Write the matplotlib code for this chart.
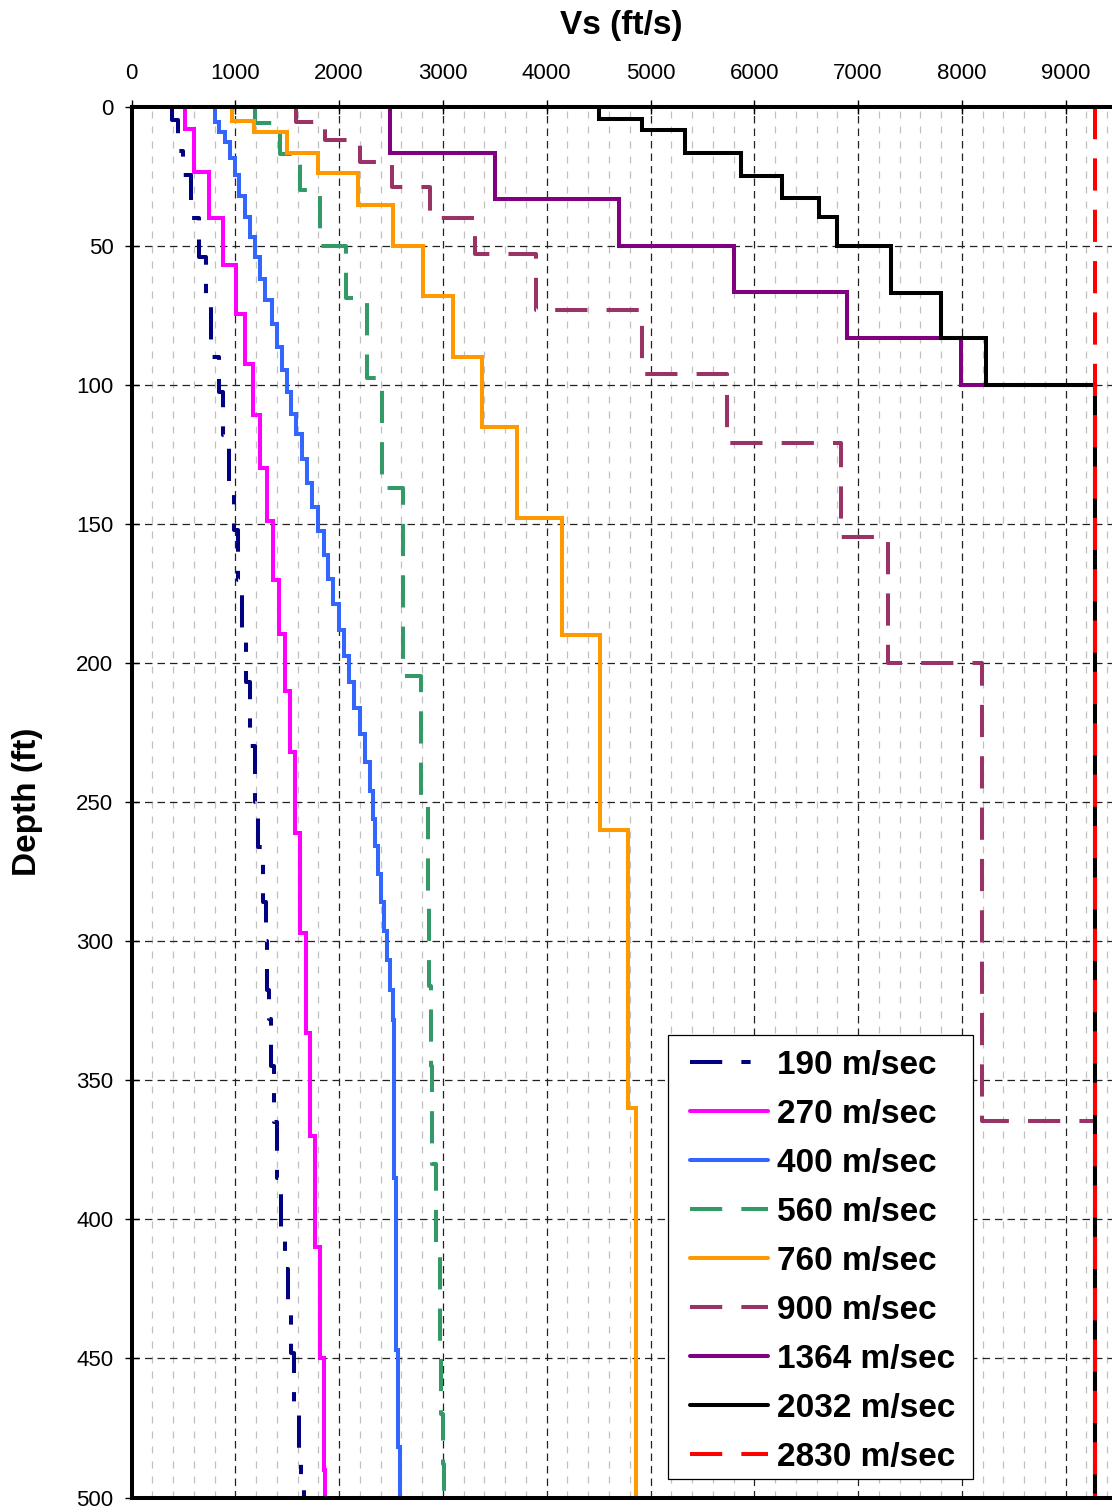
import numpy as np
import matplotlib
matplotlib.use("Agg")
import matplotlib.pyplot as plt
from matplotlib.patches import Rectangle

plt.rcParams['font.family'] = ['Liberation Sans', 'DejaVu Sans']

# layer boundaries (ft) and shear-wave velocity of each layer (ft/s)
# an extra trailing velocity is the half-space below 500 ft
depth_190 = [0, 4.8, 16, 24.6, 40, 54, 72, 90, 102.5, 118, 136, 152, 170, 190, 207, 230, 250,
             266, 286, 300, 317.6, 328, 345, 365, 385, 405, 418, 430, 448, 470, 488, 497, 500]
vs_190 = [390, 450, 500, 570, 650, 720, 770, 845, 885, 943, 991, 1029, 1068, 1106, 1142, 1193,
          1222, 1265, 1299, 1309, 1328, 1347, 1375, 1405, 1440, 1475, 1505, 1540, 1568, 1610,
          1637, 1661, 1695]

depth_270 = [0, 8, 23.4, 40, 57, 74.5, 92.5, 111, 130, 149, 170, 189.5, 210, 232, 261, 297,
             333, 370, 410, 450, 490, 500]
vs_270 = [520, 600, 750, 880, 1005, 1095, 1175, 1240, 1310, 1365, 1420, 1480, 1525, 1575,
          1620, 1680, 1720, 1770, 1815, 1850, 1860]

depth_400 = [0, 5.4, 9, 12.6, 18.6, 24.6, 32, 39.5, 46.7, 54, 61.8, 69.6, 78, 86.4, 94.5,
             102.5, 110.3, 117.8, 126.8, 135.2, 144, 152.5, 161, 169.8, 178.8, 188.2, 197.5,
             207, 216.3, 225.6, 235.7, 246, 255.9, 265.8, 275.9, 286, 296.3, 306.8, 317.6,
             328.4, 385, 447, 482, 500]
vs_400 = [800, 845, 900, 945, 995, 1040, 1090, 1140, 1190, 1240, 1290, 1350, 1400, 1450, 1495,
          1540, 1585, 1640, 1690, 1740, 1800, 1850, 1895, 1945, 2000, 2050, 2100, 2145, 2198,
          2250, 2300, 2325, 2350, 2378, 2405, 2430, 2465, 2490, 2515, 2530, 2548, 2566, 2583]

depth_560 = [0, 6, 17, 30, 50, 68.6, 97.4, 137.2, 204.7, 248, 285, 316, 345, 380, 410, 447,
             470, 488, 500]
vs_560 = [1185, 1430, 1620, 1815, 2065, 2265, 2415, 2620, 2790, 2860, 2870, 2882, 2898, 2930,
          2968, 2985, 3003, 3014]

depth_760 = [0, 5, 9, 16.5, 24, 35.5, 50, 68, 90, 115, 148, 190, 260, 360, 500]
vs_760 = [970, 1180, 1500, 1800, 2180, 2520, 2810, 3100, 3380, 3710, 4150, 4510, 4780, 4860,
          5030]

depth_900 = [0, 5.4, 12, 20, 28.8, 40, 53, 73, 96, 121, 154.6, 200, 364.5, 500]
vs_900 = [1580, 1865, 2200, 2505, 2875, 3310, 3895, 4920, 5740, 6835, 7290, 8195, 9285]

depth_1364 = [0, 16.7, 33.3, 50, 66.7, 83.3, 100, 500]
vs_1364 = [2490, 3500, 4700, 5800, 6890, 7990, 9285]

depth_2032 = [0, 4.5, 8.4, 16.5, 24.9, 33, 39.8, 50, 66.8, 83.3, 100, 500]
vs_2032 = [4500, 4915, 5330, 5875, 6265, 6620, 6795, 7315, 7800, 8230, 9285]

depth_2830 = [0, 500]
vs_2830 = [9285]

labels = ['190 m/sec', '270 m/sec', '400 m/sec', '560 m/sec', '760 m/sec',
          '900 m/sec', '1364 m/sec', '2032 m/sec', '2830 m/sec']
colors = ['#000080', '#FF00FF', '#3366FF', '#339966', '#FF9900',
          '#993366', '#800080', '#000000', '#FF0000']
dash = (0, (8, 4.75))
styles = [(0, (8, 4.75, 2.3, 4.75)), '-', '-', dash, '-', dash, '-', '-', dash]

profiles = [(depth_190, vs_190), (depth_270, vs_270), (depth_400, vs_400),
            (depth_560, vs_560), (depth_760, vs_760), (depth_900, vs_900),
            (depth_1364, vs_1364), (depth_2032, vs_2032), (depth_2830, vs_2830)]


def staircase(depths, vs):
    d = np.asarray(depths, float)
    v = np.asarray(vs, float)
    n = len(d) - 1
    x = np.repeat(v[:n], 2)
    y = np.column_stack([d[:-1], d[1:]]).ravel()
    if len(v) > n:
        x = np.append(x, v[n])
        y = np.append(y, d[-1])
    return x, y


W, H = 1112, 1510
fig = plt.figure(figsize=(W / 100, H / 100), dpi=100)
left, top, bottom = 131.5, 106.7, 1497.5
ax = fig.add_axes([left / W, 1 - bottom / H, (W - left) / W, (bottom - top) / H])

for (d, v), lab, c, ls in zip(profiles, labels, colors, styles):
    x, y = staircase(d, v)
    ax.plot(x, y, color=c, lw=2.9, linestyle=ls, label=lab,
            solid_joinstyle='miter', solid_capstyle='round', dash_capstyle='butt')

ax.set_xlim(0, 9446)
ax.set_ylim(500, 0)
ax.set_xticks(np.arange(0, 9001, 1000))
ax.set_xticks(np.arange(0, 9446, 200), minor=True)
ax.set_yticks(np.arange(0, 501, 50))

ax.xaxis.tick_top()
ax.xaxis.set_label_position('top')
ax.tick_params(axis='x', which='major', direction='inout', length=10, width=1,
               labelsize=16, pad=11)
ax.tick_params(axis='x', which='minor', length=0)
ax.tick_params(axis='y', which='major', direction='inout', length=10, width=1,
               labelsize=16, pad=8)

ax.set_axisbelow(True)
ax.grid(which='major', axis='x', color='#222222', lw=0.9, linestyle=(0, (6, 4)))
ax.grid(which='minor', axis='x', color='#c0c0c0', lw=0.9, linestyle=(0, (5.6, 6.4)))
ax.grid(which='major', axis='y', color='#222222', lw=0.9, linestyle=(0, (6, 4)))

for side in ['top', 'left', 'bottom']:
    ax.spines[side].set_linewidth(2.9)
    ax.spines[side].set_color('black')
ax.spines['right'].set_visible(False)

ax.set_xlabel('Vs (ft/s)', fontsize=24, fontweight='bold', labelpad=21)
ax.set_ylabel('Depth (ft)', fontsize=24, fontweight='bold', labelpad=24)

# legend box
box = Rectangle((668 / W, 1 - 1479 / H), (973 - 668) / W, (1479 - 1035) / H,
                transform=fig.transFigure, facecolor='white', edgecolor='black',
                lw=0.9, zorder=4, clip_on=False)
ax.add_patch(box)
leg = ax.legend(loc='upper left', bbox_to_anchor=(690 / W, 1 - 1050 / H),
                bbox_transform=fig.transFigure, frameon=False, borderpad=0,
                borderaxespad=0, handlelength=2.35, handletextpad=0.25,
                labelspacing=0.54, prop={'weight': 'bold', 'size': 24})
leg.set_zorder(5)

fig.savefig('out.png', dpi=100)
